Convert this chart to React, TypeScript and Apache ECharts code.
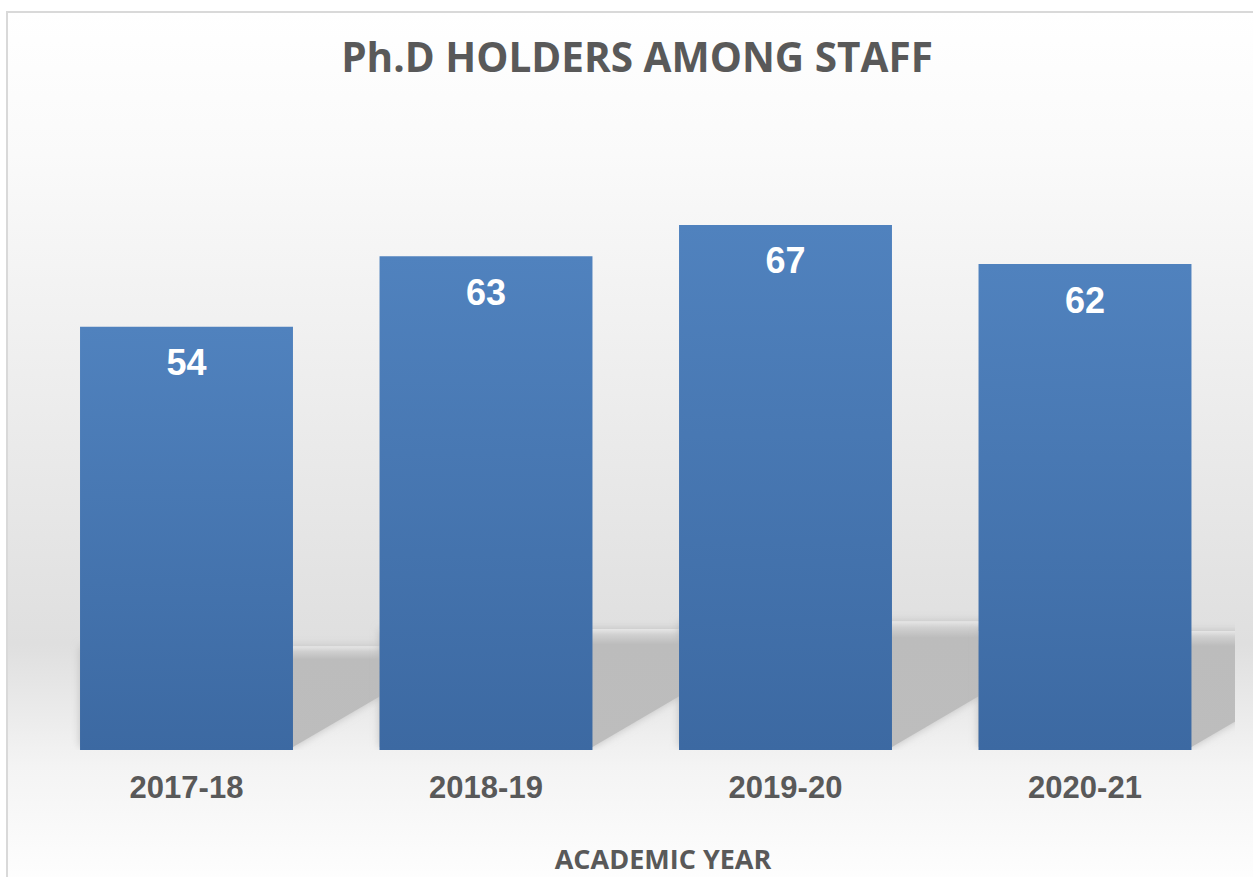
import React, { useEffect, useRef } from "react";
import * as echarts from "echarts";

const categories = ["2017-18", "2018-19", "2019-20", "2020-21"];
const phdHolders = [54, 63, 67, 62];
const titleText = "Ph.D HOLDERS AMONG STAFF";
const axisTitle = "ACADEMIC YEAR";

export default function App() {
  const ref = useRef<HTMLDivElement>(null);
  useEffect(() => {
    const chart = echarts.init(ref.current!, null, { renderer: "svg" });
    const bgGradient = new echarts.graphic.LinearGradient(0, 0, 0, 1, [
      { offset: 0, color: "#ffffff" },
      { offset: 0.16, color: "#fafafa" },
      { offset: 0.45, color: "#ececec" },
      { offset: 0.714, color: "#dfdfdf" },
      { offset: 0.853, color: "#f4f4f4" },
      { offset: 1, color: "#ffffff" },
    ]);
    const option = {
      animation: false,
      backgroundColor: "#ffffff",
      graphic: [
        {
          type: "rect",
          z: -100,
          silent: true,
          shape: { x: 7, y: 12, width: 1262, height: 885 },
          style: { fill: bgGradient, stroke: "#d9d9d9", lineWidth: 2 },
        },
        {
          type: "text",
          z: 10,
          x: 663,
          y: 858,
          style: {
            text: axisTitle,
            fill: "#595959",
            font: "bold 27px 'Open Sans'",
            align: "center",
            verticalAlign: "middle",
          },
        },
      ],
      title: {
        text: titleText,
        left: 637,
        top: 36,
        textAlign: "center",
        padding: 0,
        textStyle: {
          color: "#595959",
          fontFamily: "Open Sans",
          fontWeight: "bold",
          fontSize: 40.5,
        },
      },
      grid: { left: 36.75, right: 18.25, top: 201.4, bottom: 127 },
      xAxis: {
        type: "category",
        data: categories,
        axisLine: { show: false },
        axisTick: { show: false },
        axisLabel: {
          fontFamily: "Liberation Sans",
          fontWeight: "bold",
          fontSize: 31,
          color: "#595959",
          margin: 22,
        },
      },
      yAxis: { type: "value", min: 0, max: 70, show: false },
      series: [
        {
          type: "custom",
          z: 1,
          clip: true,
          data: phdHolders.map((v, i) => [i, v]),
          encode: { x: 0, y: 1 },
          renderItem: (params: any, api: any) => {
            const idx = api.value(0);
            const val = api.value(1);
            const top = api.coord([idx, val]);
            const base = api.coord([idx, 0]);
            const band = api.size([1, 0])[0];
            const half = (band * 0.711) / 2;
            const xl = top[0] - half;
            const xr = top[0] + half;
            const y0 = base[1];
            const H = (y0 - top[1]) * 0.245;
            const run = H / 0.6;
            return {
              type: "polygon",
              shape: {
                points: [
                  [xl, y0 - 3],
                  [xr, y0 - 3],
                  [xr + run, y0 - H],
                  [xl, y0 - H],
                ],
              },
              style: {
                fill: new echarts.graphic.LinearGradient(0, 0, 0, 1, [
                  { offset: 0, color: "#e6e6e6" },
                  { offset: 0.05, color: "#d0d0d0" },
                  { offset: 0.13, color: "#bcbcbc" },
                  { offset: 1, color: "#bdbdbd" },
                ]),
                shadowBlur: 8,
                shadowColor: "rgba(188,188,188,0.9)",
              },
            };
          },
        },
        {
          type: "bar",
          z: 3,
          data: phdHolders,
          barWidth: "71.1%",
          itemStyle: {
            color: new echarts.graphic.LinearGradient(0, 0, 0, 1, [
              { offset: 0, color: "#5082be" },
              { offset: 1, color: "#3c69a2" },
            ]),
          },
          label: {
            show: true,
            position: "insideTop",
            distance: 18,
            color: "#ffffff",
            fontFamily: "Liberation Sans",
            fontWeight: "bold",
            fontSize: 36,
          },
        },
      ],
    };
    chart.setOption(option as any);
    return () => chart.dispose();
  }, []);
  return (
    <div
      ref={ref}
      style={{ position: "fixed", left: 0, top: 0, width: 1253, height: 877 }}
    />
  );
}
